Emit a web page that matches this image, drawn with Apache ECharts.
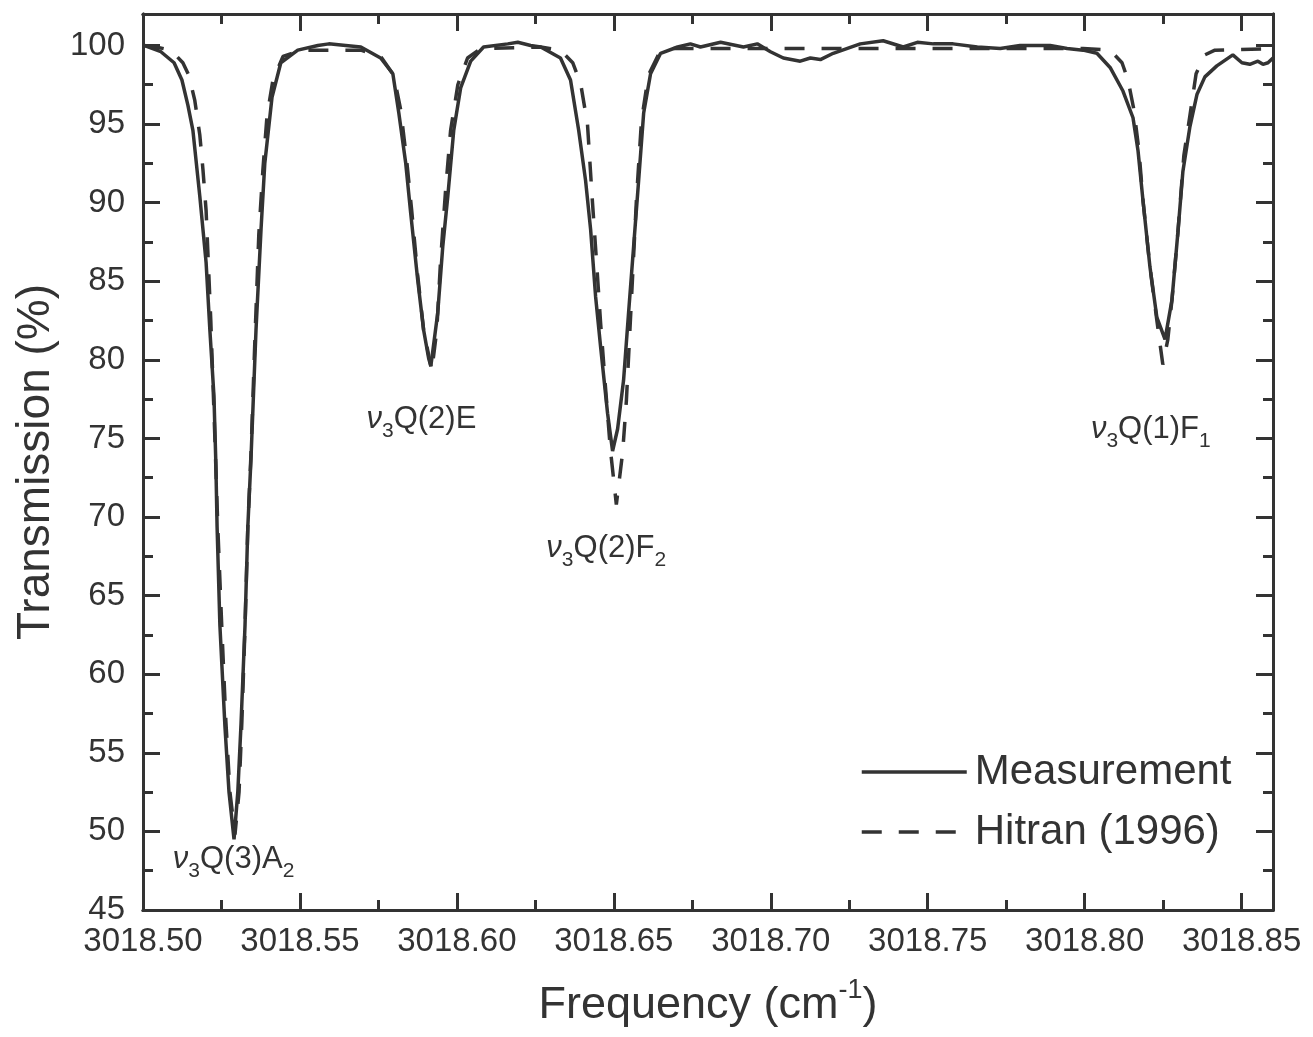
<!DOCTYPE html>
<html>
<head>
<meta charset="utf-8">
<script src="https://cdn.jsdelivr.net/npm/echarts@6/dist/echarts.min.js"></script>
<style>
  html, body { margin: 0; padding: 0; background: #fff; }
  #chart { width: 1313px; height: 1037px; }
</style>
</head>
<body>
<div id="chart"></div>
<script>
// measured spectrum (frequency in cm-1, transmission in %)
const measFreq = [3018.5003, 3018.5057, 3018.5099, 3018.5124, 3018.5143, 3018.5159, 3018.5181, 3018.5201, 3018.5213, 3018.5226, 3018.5232, 3018.5236,
  3018.5245, 3018.5261, 3018.5274, 3018.5290, 3018.5302, 3018.5312, 3018.5325, 3018.5334, 3018.5344, 3018.5360,
  3018.5376, 3018.5388, 3018.5411, 3018.5439, 3018.5493, 3018.5557, 3018.5592, 3018.5646,
  3018.5694, 3018.5757, 3018.5796, 3018.5815, 3018.5837, 3018.5853, 3018.5875, 3018.5894, 3018.5910, 3018.5917,
  3018.5939, 3018.5955, 3018.5971, 3018.5990, 3018.6012, 3018.6044, 3018.6085, 3018.6162, 3018.6194, 3018.6235,
  3018.6267, 3018.6330, 3018.6362, 3018.6388, 3018.6410, 3018.6426, 3018.6442, 3018.6458, 3018.6480, 3018.6496,
  3018.6512, 3018.6531, 3018.6547, 3018.6563, 3018.6579, 3018.6595, 3018.6617, 3018.6649, 3018.6703, 3018.6744,
  3018.6776, 3018.6840, 3018.6913, 3018.6957, 3018.6999, 3018.7040, 3018.7094, 3018.7126, 3018.7158, 3018.7199,
  3018.7285, 3018.7358, 3018.7422, 3018.7467, 3018.7518, 3018.7581, 3018.7658, 3018.7731, 3018.7794, 3018.7890,
  3018.7944, 3018.7995, 3018.8039, 3018.8081, 3018.8122, 3018.8154, 3018.8170, 3018.8186, 3018.8208, 3018.8230,
  3018.8256, 3018.8278, 3018.8297, 3018.8313, 3018.8335, 3018.8358, 3018.8383, 3018.8421, 3018.8472, 3018.8501,
  3018.8526, 3018.8552, 3018.8568, 3018.8584, 3018.8600];
const measTrans = [100.0, 99.6, 98.9, 97.8, 96.2, 94.6, 90.4, 86.2, 81.9, 77.7, 73.5, 69.4,
  63.1, 56.7, 52.5, 49.5, 52.5, 56.7, 63.1, 69.4, 73.7, 81.9,
  88.3, 92.5, 96.7, 98.9, 99.7, 100.0, 100.1, 100.0,
  99.9, 99.2, 98.2, 95.7, 92.5, 89.3, 85.1, 81.9, 80.1, 79.6,
  83.0, 87.2, 90.4, 94.6, 97.3, 99.0, 99.9, 100.1, 100.2, 100.0,
  99.9, 99.2, 97.8, 94.6, 91.4, 88.3, 84.0, 80.8, 76.6, 74.2,
  75.6, 78.7, 83.0, 87.2, 91.4, 95.7, 98.2, 99.5, 99.9, 100.1,
  99.9, 100.2, 99.9, 100.1, 99.6, 99.2, 99.0, 99.2, 99.1, 99.5,
  100.1, 100.3, 99.9, 100.2, 100.1, 100.1, 99.9, 99.8, 100.0, 100.0,
  99.8, 99.7, 99.5, 98.6, 97.1, 95.4, 93.3, 90.1, 85.9, 82.7,
  81.3, 83.8, 88.1, 92.0, 94.8, 96.9, 98.0, 98.7, 99.4, 98.9,
  98.8, 99.0, 98.8, 98.9, 99.2];

// Hitran (1996) simulation
const hitFreq = [3018.5003, 3018.5041, 3018.5089, 3018.5127, 3018.5146, 3018.5165, 3018.5181, 3018.5191, 3018.5201, 3018.5216,
  3018.5229, 3018.5239, 3018.5251, 3018.5264, 3018.5277, 3018.5293, 3018.5306, 3018.5315, 3018.5325, 3018.5334,
  3018.5344, 3018.5356, 3018.5369, 3018.5382, 3018.5395, 3018.5414, 3018.5446, 3018.5503, 3018.5694, 3018.5757,
  3018.5799, 3018.5821, 3018.5840, 3018.5856, 3018.5875, 3018.5894, 3018.5920, 3018.5936, 3018.5948, 3018.5964,
  3018.5980, 3018.6003, 3018.6034, 3018.6076, 3018.6267, 3018.6330, 3018.6369, 3018.6394, 3018.6416, 3018.6432,
  3018.6445, 3018.6458, 3018.6474, 3018.6489, 3018.6508, 3018.6528, 3018.6540, 3018.6556, 3018.6572, 3018.6588,
  3018.6610, 3018.6642, 3018.6680, 3018.7995, 3018.8081, 3018.8119, 3018.8138, 3018.8157, 3018.8173, 3018.8186,
  3018.8208, 3018.8230, 3018.8249, 3018.8265, 3018.8278, 3018.8297, 3018.8316, 3018.8335, 3018.8355, 3018.8383,
  3018.8415, 3018.8600];
const hitTrans = [100.0, 99.9, 99.7, 98.9, 98.1, 96.5, 94.3, 92.1, 89.5, 82.5,
  75.0, 69.0, 63.0, 57.0, 52.5, 49.8, 52.5, 57.0, 63.0, 69.4,
  74.0, 81.0, 88.0, 92.1, 95.5, 97.8, 99.3, 99.7, 99.7, 99.3,
  98.1, 95.9, 92.7, 89.5, 85.4, 81.9, 79.3, 81.9, 86.3, 90.8,
  94.6, 97.5, 99.2, 99.8, 99.9, 99.7, 98.9, 97.6, 95.0, 90.0,
  86.2, 82.3, 78.1, 74.3, 70.8, 74.1, 77.4, 83.8, 90.2, 95.2,
  98.1, 99.4, 99.8, 99.8, 99.7, 98.9, 97.8, 95.9, 93.3, 90.1,
  85.9, 82.5, 79.7, 81.3, 83.8, 88.1, 93.0, 95.5, 98.2, 99.4,
  99.7, 99.8];

// line assignments (left edge / vertical middle of each label)
const annoFreq = [3018.5095, 3018.5712, 3018.6285, 3018.8020];
const annoTrans = [48.2, 76.2, 68.0, 75.6];
const annoText = [
  '{nu|ν}{sub|3}{n|Q(3)A}{sub|2}',
  '{nu|ν}{sub|3}{n|Q(2)E}',
  '{nu|ν}{sub|3}{n|Q(2)F}{sub|2}',
  '{nu|ν}{sub|3}{n|Q(1)F}{sub|1}'
];

const ink = '#333333';
const font = '"Liberation Sans", Arial, sans-serif';

const xMin = 3018.5, xMax = 3018.86;
const yMin = 45, yMax = 102;

function zip(a, b) { return a.map((v, i) => [v, b[i]]); }

const chart = echarts.init(document.getElementById('chart'));

function xAx(pos, major, show) {
  return {
    type: 'value', position: pos, min: xMin, max: xMax,
    interval: major ? 0.05 : 0.025,
    axisLine: { show: true, onZero: false, lineStyle: { color: ink, width: 3 } },
    axisTick: { show: true, inside: true, length: major ? 17 : 10, lineStyle: { color: ink, width: 3 } },
    axisLabel: {
      show: show, margin: 15, color: ink, fontSize: 33, fontFamily: font,
      showMaxLabel: false,
      formatter: v => v.toFixed(2)
    },
    splitLine: { show: false }
  };
}
function yAx(pos, major, show) {
  return {
    type: 'value', position: pos, min: yMin, max: yMax,
    interval: major ? 5 : 2.5,
    axisLine: { show: true, onZero: false, lineStyle: { color: ink, width: 3 } },
    axisTick: { show: true, inside: true, length: major ? 17 : 10, lineStyle: { color: ink, width: 3 } },
    axisLabel: {
      show: show, margin: 18, color: ink, fontSize: 33, fontFamily: font,
      showMaxLabel: false,
      formatter: v => String(Math.round(v))
    },
    splitLine: { show: false }
  };
}

const xAxes = [xAx('bottom', true, true), xAx('bottom', false, false), xAx('top', true, false), xAx('top', false, false)];
xAxes[0].name = '{a|Frequency (cm}{sup|-1}{a|)}';
xAxes[0].nameLocation = 'middle';
xAxes[0].nameGap = 72;
xAxes[0].nameTextStyle = {
  rich: {
    a: { fontSize: 45, fontFamily: font, color: ink, lineHeight: 46, verticalAlign: 'bottom' },
    sup: { fontSize: 27, fontFamily: font, color: ink, lineHeight: 27, padding: [0, 0, 24, 0], verticalAlign: 'bottom' }
  }
};
const yAxes = [yAx('left', true, true), yAx('left', false, false), yAx('right', true, false), yAx('right', false, false)];
yAxes[0].name = 'Transmission (%)';
yAxes[0].nameLocation = 'middle';
yAxes[0].nameGap = 84;
yAxes[0].nameTextStyle = { fontSize: 46, fontFamily: font, color: ink };

chart.setOption({
  backgroundColor: '#ffffff',
  animation: false,
  grid: { left: 143, right: 40, top: 14, bottom: 127, outerBoundsMode: 'none' },
  xAxis: xAxes,
  yAxis: yAxes,
  legend: {
    orient: 'vertical',
    left: 855,
    top: 746,
    itemWidth: 105,
    itemHeight: 20,
    itemGap: 18,
    itemStyle: { color: 'rgba(0,0,0,0)', borderColor: 'rgba(0,0,0,0)', borderWidth: 0 },
    lineStyle: { width: 3.5 },
    textStyle: { fontSize: 42, fontFamily: font, color: ink, padding: [0, 0, 0, 3] },
    data: ['Measurement', 'Hitran (1996)']
  },
  series: [
    {
      name: 'Measurement',
      type: 'line',
      data: zip(measFreq, measTrans),
      symbol: 'none',
      lineStyle: { color: ink, width: 3.5 },
      itemStyle: { color: ink },
      markPoint: {
        symbol: 'circle',
        symbolSize: 0,
        itemStyle: { color: 'transparent' },
        label: {
          show: true,
          position: 'right',
          distance: 0,
          rich: {
            nu: { fontSize: 31, fontFamily: font, color: ink, fontStyle: 'italic', lineHeight: 31, verticalAlign: 'top' },
            n: { fontSize: 31, fontFamily: font, color: ink, lineHeight: 31, verticalAlign: 'top' },
            sub: { fontSize: 21, fontFamily: font, color: ink, lineHeight: 21, padding: [17, 0, 0, 0], verticalAlign: 'top' }
          }
        },
        data: annoFreq.map((f, i) => ({
          coord: [f, annoTrans[i]],
          label: { formatter: annoText[i] }
        }))
      }
    },
    {
      name: 'Hitran (1996)',
      type: 'line',
      data: zip(hitFreq, hitTrans),
      symbol: 'none',
      lineStyle: { color: ink, width: 3.5, type: [20, 17] },
      itemStyle: { color: ink }
    }
  ]
});
</script>
</body>
</html>
